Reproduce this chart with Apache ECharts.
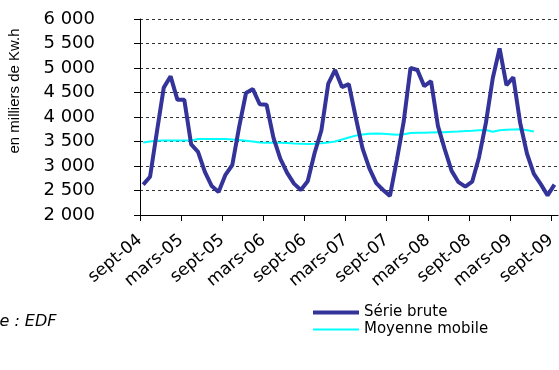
<!DOCTYPE html>
<html>
<head>
<meta charset="utf-8">
<script src="https://cdn.jsdelivr.net/npm/echarts@6/dist/echarts.min.js"></script>
<style>html,body{margin:0;padding:0;background:#fff;}#c{width:559px;height:370px;}</style>
</head>
<body>
<div id="c"></div>
<script>
// Monthly series, sept-04 .. sept-09 (61 months)
const xTickLabels = ['sept-04','mars-05','sept-05','mars-06','sept-06','mars-07','sept-07','mars-08','sept-08','mars-09','sept-09'];
const serieBrute = [
  2620, 2780, 3700, 4600, 4830, 4350, 4350, 3440, 3290, 2880, 2590, 2470,
  2820, 3020, 3800, 4490, 4570, 4260, 4250, 3580, 3150, 2860, 2640, 2510,
  2690, 3260, 3730, 4680, 4960, 4610, 4670, 4000, 3360, 2950, 2650, 2510,
  2390, 3120, 3900, 5000, 4960, 4630, 4730, 3820, 3340, 2900, 2670, 2580,
  2680, 3180, 3880, 4790, 5400, 4650, 4810, 3880, 3250, 2840, 2630, 2400,
  2620
];
const moyenneMobile = [
  3480, 3500, 3515, 3520, 3520, 3518, 3518, 3520, 3550, 3550, 3550, 3550,
  3550, 3540, 3530, 3515, 3500, 3480, 3475, 3475, 3475, 3470, 3460, 3455,
  3450, 3455, 3465, 3480, 3500, 3540, 3580, 3620, 3645, 3660, 3665, 3660,
  3650, 3640, 3650, 3675, 3680, 3680, 3685, 3688, 3690, 3700, 3705, 3712,
  3720, 3730, 3735, 3700, 3730, 3740, 3745, 3748, 3730, 3705
];
const yTicks = { min: 2000, max: 6000, step: 500 };
const seriesNames = ['Série brute', 'Moyenne mobile'];
const yAxisTitle = 'en milliers de Kw.h';
const sourceText = 'Source : EDF';

// points are dated mid-month (day 15 of ~30) on a month-based axis
const midMonth = 14 / 30;
const toPairs = arr => arr.map((v, i) => [i + midMonth, v]);
const fmtThousands = v => String(Math.round(v)).replace(/\B(?=(\d{3})+(?!\d))/g, ' ');

const chart = echarts.init(document.getElementById('c'), null, { renderer: 'canvas' });
chart.setOption({
  animation: false,
  backgroundColor: '#ffffff',
  grid: { left: 140, top: 19, height: 196, width: 423.6, containLabel: false },
  xAxis: {
    type: 'value', min: 0, max: 61, interval: 6,
    axisLine: { show: true, onZero: false, lineStyle: { color: '#000', width: 1 } },
    axisTick: { show: true, length: 6, lineStyle: { color: '#000' } },
    splitLine: { show: false },
    axisLabel: {
      rotate: 40, margin: 23, fontFamily: 'DejaVu Sans', fontSize: 17, color: '#000',
      showMinLabel: true, showMaxLabel: false,
      formatter: v => (v % 6 === 0 && v / 6 < xTickLabels.length) ? xTickLabels[v / 6] : ''
    }
  },
  yAxis: {
    type: 'value', min: yTicks.min, max: yTicks.max, interval: yTicks.step,
    axisLine: { show: true, lineStyle: { color: '#000', width: 1 } },
    axisTick: { show: true, length: 6, lineStyle: { color: '#000' } },
    splitLine: { show: true, lineStyle: { color: '#333', width: 1, type: [3, 3] } },
    axisLabel: { margin: 45, fontFamily: 'DejaVu Sans', fontSize: 18, color: '#000', formatter: fmtThousands }
  },
  legend: {
    orient: 'vertical', left: 313, top: 305, padding: 0, itemWidth: 46, itemHeight: 14, itemGap: 2,
    textStyle: { fontFamily: 'DejaVu Sans', fontSize: 15, color: '#000' },
    data: [
      { name: seriesNames[0], icon: 'path://M0,0L46,0L46,4L0,4Z' },
      { name: seriesNames[1], icon: 'path://M0,0L46,0L46,2L0,2Z' }
    ]
  },
  graphic: [
    { type: 'text', x: 15, y: 91, rotation: Math.PI / 2,
      style: { text: yAxisTitle, fontFamily: 'Liberation Sans', fontSize: 15, fill: '#000', align: 'center', verticalAlign: 'middle' } },
    { type: 'text', left: -46, top: 314,
      style: { text: sourceText, fontFamily: 'DejaVu Sans', fontStyle: 'italic', fontSize: 16, fill: '#000' } }
  ],
  series: [
    { name: seriesNames[0], type: 'line', data: toPairs(serieBrute), symbol: 'none',
      lineStyle: { color: '#333399', width: 4 }, itemStyle: { color: '#333399' }, z: 3 },
    { name: seriesNames[1], type: 'line', data: toPairs(moyenneMobile), symbol: 'none',
      lineStyle: { color: '#00ffff', width: 2 }, itemStyle: { color: '#00ffff' }, z: 2 }
  ]
});
</script>
</body>
</html>
